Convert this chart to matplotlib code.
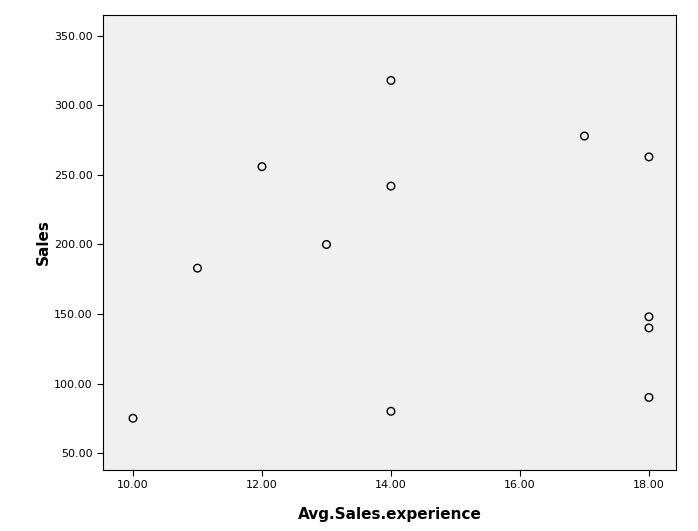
import matplotlib
matplotlib.use('Agg')
from matplotlib import pyplot as plt
from matplotlib.ticker import FormatStrFormatter

# values
experience = [10, 11, 12, 13, 14, 14, 14, 17, 18, 18, 18, 18]
sales = [75, 183, 256, 200, 318, 242, 80, 278, 263, 148, 140, 90]
x_ticks = [10, 12, 14, 16, 18]
y_ticks = [50, 100, 150, 200, 250, 300, 350]

fig = plt.figure(figsize=(6.98, 5.31), dpi=100)
ax = fig.add_axes([0.1476, 0.1149, 0.8209, 0.8569])
ax.set_facecolor('#f0f0f0')
ax.scatter(experience, sales, s=30, facecolors='none', edgecolors='black', linewidths=1)
ax.set_xlim(9.535, 18.42)
ax.set_ylim(37.8, 365.1)
ax.set_xticks(x_ticks)
ax.set_yticks(y_ticks)
ax.xaxis.set_major_formatter(FormatStrFormatter('%.2f'))
ax.yaxis.set_major_formatter(FormatStrFormatter('%.2f'))
ax.tick_params(axis='both', labelsize=8, direction='out', length=4)
ax.set_xlabel('Avg.Sales.experience', fontsize=11, fontweight='bold', labelpad=12)
ax.set_ylabel('Sales', fontsize=11, fontweight='bold', labelpad=2)
for s in ax.spines.values():
    s.set_color('black')
    s.set_linewidth(0.8)
fig.savefig('out.png', dpi=100)
